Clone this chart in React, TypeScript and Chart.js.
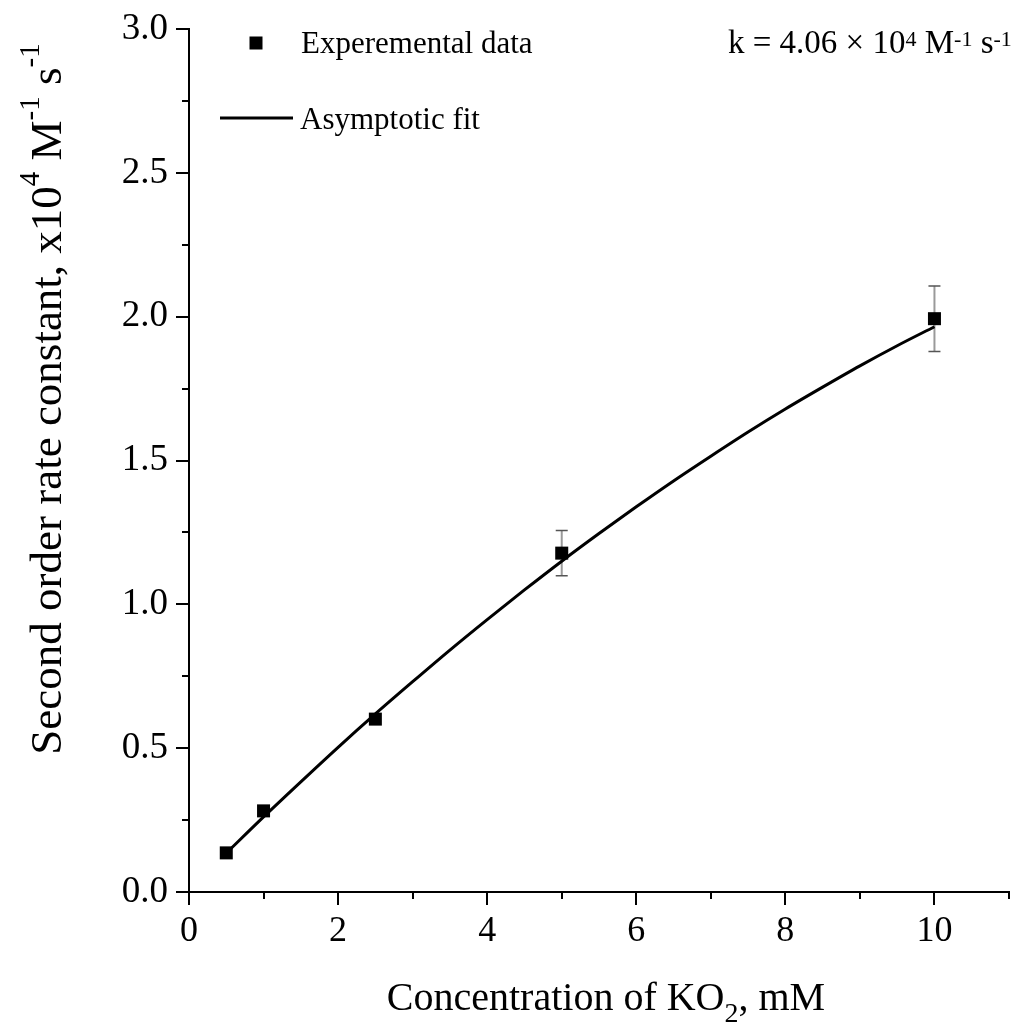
import React, { useEffect, useRef } from 'react';
import { Chart, registerables } from 'chart.js';

Chart.register(...registerables);

// Experimental data
const concentrations = [0.5, 1, 2.5, 5, 10];
const rateConstants = [0.136, 0.282, 0.601, 1.178, 1.993];
const rateErrors = [0, 0, 0, 0.079, 0.114];

// Asymptotic fit curve
const fitX = [0.5, 1, 1.5, 2, 2.5, 3, 3.5, 4, 4.5, 5, 5.5, 6, 6.5, 7, 7.5, 8, 8.5, 9, 9.5, 10];
const fitY = [0.135, 0.261, 0.383, 0.503, 0.619, 0.731, 0.841, 0.947, 1.05, 1.15, 1.246, 1.339, 1.429, 1.515, 1.599, 1.679, 1.755, 1.829, 1.899, 1.965];

const xTickValues = [0, 1, 2, 3, 4, 5, 6, 7, 8, 9, 10, 11];
const yTickValues = [0, 0.25, 0.5, 0.75, 1, 1.25, 1.5, 1.75, 2, 2.25, 2.5, 2.75, 3];

const legendLabels = ['Experemental data', 'Asymptotic fit'];
const FAMILY = '"Liberation Serif", "Times New Roman", serif';

type Seg = { t: string; s: number; dy: number };

function drawRich(ctx: CanvasRenderingContext2D, segs: Seg[], x: number, y: number, align: 'left' | 'center') {
  let total = 0;
  const widths: number[] = [];
  for (const g of segs) {
    ctx.font = `${g.s}px ${FAMILY}`;
    const w = ctx.measureText(g.t).width;
    widths.push(w);
    total += w;
  }
  let cx = align === 'center' ? x - total / 2 : x;
  ctx.textAlign = 'left';
  ctx.textBaseline = 'alphabetic';
  segs.forEach((g, i) => {
    ctx.font = `${g.s}px ${FAMILY}`;
    ctx.fillText(g.t, cx, y + g.dy);
    cx += widths[i];
  });
}

const decorPlugin = {
  id: 'decor',
  beforeDatasetsDraw(chart: any) {
    const ctx: CanvasRenderingContext2D = chart.ctx;
    const xs = chart.scales.x;
    const ys = chart.scales.y;
    ctx.save();
    concentrations.forEach((c, i) => {
      const e = rateErrors[i];
      if (!e) return;
      const px = xs.getPixelForValue(c);
      const top = ys.getPixelForValue(rateConstants[i] + e);
      const bot = ys.getPixelForValue(rateConstants[i] - e);
      ctx.strokeStyle = '#9a9a9a';
      ctx.lineWidth = 2;
      ctx.beginPath();
      ctx.moveTo(px, top);
      ctx.lineTo(px, bot);
      ctx.stroke();
      ctx.strokeStyle = '#555';
      ctx.lineWidth = 1.5;
      ctx.beginPath();
      ctx.moveTo(px - 6, top);
      ctx.lineTo(px + 6, top);
      ctx.moveTo(px - 6, bot);
      ctx.lineTo(px + 6, bot);
      ctx.stroke();
    });
    ctx.restore();
  },
  afterDraw(chart: any) {
    const ctx: CanvasRenderingContext2D = chart.ctx;
    const xs = chart.scales.x;
    const ys = chart.scales.y;
    const area = chart.chartArea;
    ctx.save();
    ctx.strokeStyle = '#000';
    ctx.lineWidth = 2;
    ctx.beginPath();
    xTickValues.forEach((v) => {
      const px = Math.round(xs.getPixelForValue(v));
      const len = v % 2 === 0 ? 13 : 7;
      ctx.moveTo(px, area.bottom);
      ctx.lineTo(px, area.bottom + len);
    });
    yTickValues.forEach((v) => {
      const py = Math.round(ys.getPixelForValue(v));
      const len = Math.abs((v * 2) % 1) < 1e-6 ? 13 : 7;
      ctx.moveTo(area.left, py);
      ctx.lineTo(area.left - len, py);
    });
    ctx.stroke();

    ctx.fillStyle = '#000';
    // x title
    drawRich(ctx, [
      { t: 'Concentration of KO', s: 40, dy: 0 },
      { t: '2', s: 28, dy: 12 },
      { t: ', mM', s: 40, dy: 0 },
    ], 606, 1010, 'center');

    // y title (rotated)
    ctx.save();
    ctx.translate(61, 399);
    ctx.rotate(-Math.PI / 2);
    drawRich(ctx, [
      { t: 'Second order rate constant, x10', s: 45, dy: 0 },
      { t: '4', s: 29, dy: -22 },
      { t: ' M', s: 45, dy: 0 },
      { t: '-1', s: 29, dy: -22 },
      { t: ' s', s: 45, dy: 0 },
      { t: '-1', s: 29, dy: -22 },
    ], 0, 0, 'center');
    ctx.restore();

    // k annotation
    drawRich(ctx, [
      { t: 'k = 4.06 \u00d7 10', s: 33, dy: 0 },
      { t: '4', s: 22, dy: -7 },
      { t: ' M', s: 33, dy: 0 },
      { t: '-1', s: 22, dy: -7 },
      { t: ' s', s: 33, dy: 0 },
      { t: '-1', s: 22, dy: -7 },
    ], 728, 53, 'left');

    // legend
    ctx.fillRect(256 - 6.5, 43 - 6.5, 13, 13);
    ctx.font = `31px ${FAMILY}`;
    ctx.textAlign = 'left';
    ctx.textBaseline = 'alphabetic';
    ctx.fillText(legendLabels[0], 301, 53);
    ctx.lineWidth = 3;
    ctx.beginPath();
    ctx.moveTo(220, 118);
    ctx.lineTo(293, 118);
    ctx.stroke();
    ctx.fillText(legendLabels[1], 300, 129);
    ctx.restore();
  },
};

export default function App() {
  const ref = useRef<HTMLCanvasElement | null>(null);
  useEffect(() => {
    if (!ref.current) return;
    const chart = new Chart(ref.current, {
      type: 'scatter',
      data: {
        datasets: [
          {
            label: legendLabels[1],
            data: fitX.map((x, i) => ({ x, y: fitY[i] })),
            showLine: true,
            borderColor: '#000',
            borderWidth: 3,
            pointRadius: 0,
            cubicInterpolationMode: 'monotone',
            order: 1,
          } as any,
          {
            label: legendLabels[0],
            data: concentrations.map((x, i) => ({ x, y: rateConstants[i] })),
            showLine: false,
            pointStyle: 'rect',
            pointRadius: 9.2,
            backgroundColor: '#000',
            borderColor: '#000',
            borderWidth: 0,
            order: 2,
          } as any,
        ],
      },
      options: {
        animation: false,
        responsive: false,
        maintainAspectRatio: false,
        layout: { padding: { top: 29, right: 11, left: 0, bottom: 0 } },
        plugins: { legend: { display: false }, tooltip: { enabled: false } },
        scales: {
          x: {
            type: 'linear',
            min: 0,
            max: 11,
            grid: { display: false, drawTicks: false },
            border: { display: true, color: '#000', width: 2 },
            ticks: {
              stepSize: 1,
              autoSkip: false,
              maxRotation: 0,
              padding: 18,
              color: '#000',
              font: { family: FAMILY, size: 36 },
              callback: (v: any) => (Number(v) % 2 === 0 ? String(v) : ''),
            },
            afterFit: (s: any) => { s.height = 135; s.paddingLeft = 0; s.paddingRight = 0; },
          },
          y: {
            type: 'linear',
            min: 0,
            max: 3,
            grid: { display: false, drawTicks: false },
            border: { display: true, color: '#000', width: 2 },
            ticks: {
              stepSize: 0.5,
              padding: 21,
              color: '#000',
              font: { family: FAMILY, size: 37 },
              callback: (v: any) => Number(v).toFixed(1),
            },
            afterFit: (s: any) => { s.width = 189; s.paddingTop = 0; s.paddingBottom = 0; },
          },
        },
      } as any,
      plugins: [decorPlugin],
    });
    return () => chart.destroy();
  }, []);
  return (
    <div style={{ position: 'absolute', left: 0, top: 0, width: 1020, height: 1027, background: '#fff' }}>
      <canvas ref={ref} width={1020} height={1027} style={{ display: 'block' }} />
    </div>
  );
}
